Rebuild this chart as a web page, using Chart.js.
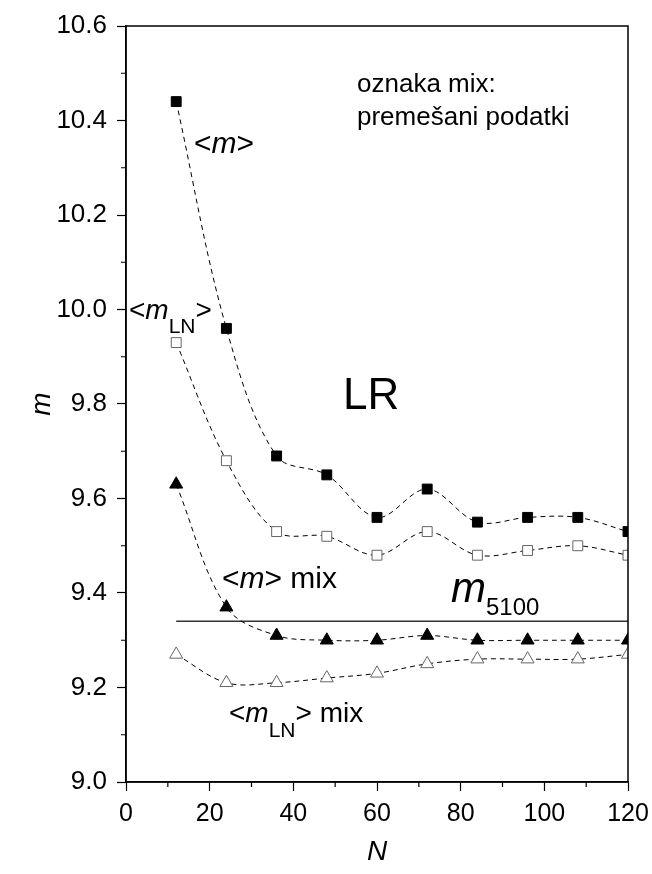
<!DOCTYPE html>
<html>
<head>
<meta charset="utf-8">
<script src="https://cdn.jsdelivr.net/npm/chart.js@4"></script>
<style>
  html, body { margin: 0; padding: 0; background: #fff; }
  #wrap { width: 652px; height: 874px; }
</style>
</head>
<body>
<div id="wrap"><canvas id="chart" width="652" height="874"></canvas></div>
<script>
// data
var N = [12, 24, 36, 48, 60, 72, 84, 96, 108, 120];
var mMean = [10.44, 9.96, 9.69, 9.65, 9.56, 9.62, 9.55, 9.56, 9.56, 9.53];
var mLN = [9.93, 9.68, 9.53, 9.52, 9.48, 9.53, 9.48, 9.49, 9.50, 9.48];
var mMix = [9.63, 9.37, 9.31, 9.30, 9.30, 9.31, 9.30, 9.30, 9.30, 9.30];
var mLNMix = [9.27, 9.21, 9.21, 9.22, 9.23, 9.25, 9.26, 9.26, 9.26, 9.27];
var m5100 = 9.34;
var m5100Range = [12, 120];
var xTicks = [0, 20, 40, 60, 80, 100, 120];
var yTicks = [9.0, 9.2, 9.4, 9.6, 9.8, 10.0, 10.2, 10.4, 10.6];

var FONT = "'Liberation Sans', Arial, sans-serif";

function pts(ys) {
    return N.map(function (n, i) { return { x: n, y: ys[i] }; });
}

function series(ys, style, filled) {
    return {
        data: pts(ys),
        borderColor: '#000',
        borderWidth: 1,
        borderDash: [5, 4],
        tension: 0.35,
        pointStyle: style,
        pointRadius: style === 'rect' ? 7 : 7.5,
        pointBorderWidth: 1,
        pointBackgroundColor: filled ? '#000' : '#fff',
        pointBorderColor: filled ? '#000' : '#666'
    };
}

// frame, minor ticks, axis titles and text labels
var decor = {
    id: 'decor',
    afterDraw: function (chart) {
        var c = chart.ctx, a = chart.chartArea;
        var sx = chart.scales.x, sy = chart.scales.y;
        c.save();
        c.strokeStyle = '#000';
        c.lineWidth = 1.5;
        c.strokeRect(a.left, a.top, a.right - a.left, a.bottom - a.top);
        c.lineWidth = 1.2;
        c.beginPath();
        for (var v = 10; v < 120; v += 20) {
            var px = sx.getPixelForValue(v);
            c.moveTo(px, a.bottom); c.lineTo(px, a.bottom + 5);
        }
        for (var w = 9.1; w < 10.6; w += 0.2) {
            var py = sy.getPixelForValue(w);
            c.moveTo(a.left, py); c.lineTo(a.left - 5, py);
        }
        c.stroke();

        c.fillStyle = '#000';
        c.textBaseline = 'alphabetic';
        function txt(parts, x, y) {
            parts.forEach(function (p) {
                c.font = p[1];
                c.fillText(p[0], x, y + (p[2] || 0));
                x += c.measureText(p[0]).width;
            });
        }
        // axis titles
        c.font = 'italic 28px ' + FONT;
        c.textAlign = 'center';
        c.fillText('N', (a.left + a.right) / 2, 860);
        c.save();
        c.translate(50, (a.top + a.bottom) / 2);
        c.rotate(-Math.PI / 2);
        c.fillText('m', 0, 0);
        c.restore();
        c.textAlign = 'left';

        var r30 = '30px ' + FONT, i30 = 'italic 30px ' + FONT;
        var r28 = '28px ' + FONT, i28 = 'italic 28px ' + FONT, sub = '21px ' + FONT;
        c.font = '26px ' + FONT;
        c.fillText('oznaka mix:', 357, 92);
        c.fillText('premešani podatki', 357, 125);
        txt([['<', r30], ['m', i30], ['>', r30]], 194, 153);
        txt([['<', r28], ['m', i28], ['LN', sub, 14], ['>', r28]], 129, 319);
        c.font = '44px ' + FONT;
        c.fillText('LR', 343, 409);
        txt([['<', r30], ['m', i30], ['> mix', r30]], 222, 588);
        txt([['m', 'italic 42px ' + FONT], ['5100', '24px ' + FONT, 13]], 451, 602);
        txt([['<', r28], ['m', i28], ['LN', sub, 15], ['> mix', r28]], 229, 722);
        c.restore();
    }
};

var ctx = document.getElementById('chart').getContext('2d');
var chart = new Chart(ctx, {
    type: 'line',
    data: {
        datasets: [
            series(mMean, 'rect', true),
            series(mLN, 'rect', false),
            series(mMix, 'triangle', true),
            series(mLNMix, 'triangle', false),
            {
                data: m5100Range.map(function (n) { return { x: n, y: m5100 }; }),
                borderColor: '#333',
                borderWidth: 1.5,
                pointRadius: 0
            }
        ]
    },
    options: {
        responsive: false,
        animation: false,
        layout: { padding: { top: 26, right: 24, left: 0, bottom: 0 } },
        plugins: { legend: { display: false }, tooltip: { enabled: false } },
        scales: {
            x: {
                type: 'linear',
                min: 0, max: 120,
                afterBuildTicks: function (s) { s.ticks = xTicks.map(function (v) { return { value: v }; }); },
                afterFit: function (s) { s.height = 92; s.paddingLeft = 0; s.paddingRight = 0; },
                ticks: { color: '#000', font: { family: FONT, size: 25 }, padding: 8 },
                grid: { drawOnChartArea: false, tickLength: 9, color: '#000', tickWidth: 1.2 },
                border: { display: true, color: '#000', width: 1.5 }
            },
            y: {
                type: 'linear',
                min: 9.0, max: 10.6,
                afterBuildTicks: function (s) { s.ticks = yTicks.map(function (v) { return { value: v }; }); },
                afterFit: function (s) { s.width = 126; s.paddingTop = 0; s.paddingBottom = 0; },
                ticks: { color: '#000', font: { family: FONT, size: 26 }, padding: 10,
                    callback: function (v) { return Number(v).toFixed(1); } },
                grid: { drawOnChartArea: false, tickLength: 9, color: '#000', tickWidth: 1.2 },
                border: { display: true, color: '#000', width: 1.5 }
            }
        }
    },
    plugins: [decor]
});
</script>
</body>
</html>
